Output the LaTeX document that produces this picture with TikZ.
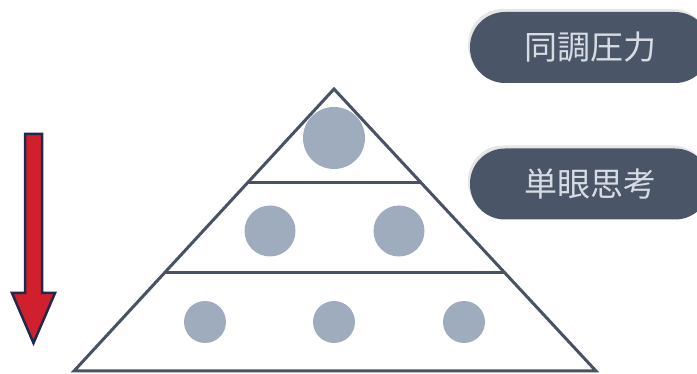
\documentclass[tikz,border=0pt]{standalone}
\usepackage{fontspec}
\newfontfamily\jpfont{Noto Sans CJK JP}
\usetikzlibrary{calc,shadows}
\definecolor{slate}{RGB}{74,85,104}
\definecolor{dotgray}{RGB}{158,172,190}
\definecolor{pyrline}{RGB}{72,82,100}
\definecolor{arrowred}{RGB}{208,32,46}
\definecolor{navy}{RGB}{30,42,74}
\definecolor{pilltext}{RGB}{215,220,228}

\begin{document}
\begin{tikzpicture}[x=1pt,y=-1pt]
\tikzstyle{dot}=[circle,fill=dotgray,inner sep=0pt]
\tikzstyle{pill}=[rectangle,rounded corners=35pt,fill=slate,text=pilltext,minimum width=240pt,minimum height=71pt,font=\jpfont\fontsize{33}{36}\selectfont,drop shadow={shadow xshift=-2pt,shadow yshift=3pt,opacity=0.2}]
\tikzstyle{layer}=[draw=pyrline,line width=3pt]
    \useasboundingbox (0,0) rectangle (697,374);
    % pyramid
    \coordinate (apex) at (334,89);
    \coordinate (bl) at (74,371);
    \coordinate (br) at (596,371);
    \coordinate (l1) at ($(apex)!0.33!(bl)$);
    \coordinate (r1) at ($(apex)!0.33!(br)$);
    \coordinate (l2) at ($(apex)!0.652!(bl)$);
    \coordinate (r2) at ($(apex)!0.652!(br)$);
    \path[layer,line join=miter] (apex) -- (bl) -- (br) -- cycle;
    \path[layer] (l1) -- (r1);
    \path[layer] (l2) -- (r2);
    \node[dot,minimum size=62pt] (top) at (334,138) {};
    \node[dot,minimum size=51pt] (midl) at (270,231) {};
    \node[dot,minimum size=51pt] (midr) at (399,231) {};
    \node[dot,minimum size=42pt] (lowl) at (205,322) {};
    \node[dot,minimum size=42pt] (lowc) at (334,322) {};
    \node[dot,minimum size=42pt] (lowr) at (464,322) {};
    % labels
    \node[pill] (peer) at (590,47.5) {同調圧力};
    \node[pill] (narrow) at (590,184) {単眼思考};
    % arrow
    \draw[fill=arrowred,draw=navy,line width=2.5pt,line join=miter]
        (25,134) -- (42,134) -- (42,293) -- (55,293) -- (33.5,343) -- (12,293) -- (25,293) -- cycle;
\end{tikzpicture}
\end{document}
